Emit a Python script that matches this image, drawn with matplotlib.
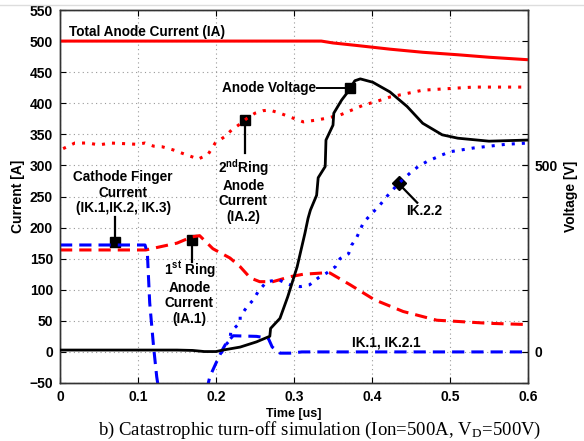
import matplotlib
matplotlib.use("Agg")
import matplotlib.pyplot as plt
from matplotlib.lines import Line2D

plt.rcParams['font.family'] = ['Liberation Sans', 'DejaVu Sans']
plt.rcParams['font.weight'] = 'bold'
plt.rcParams['mathtext.fontset'] = 'custom'
plt.rcParams['mathtext.rm'] = 'Liberation Sans:bold'
plt.rcParams['mathtext.bf'] = 'Liberation Sans:bold'

# ---- data ----
t_total = [0.0, 0.30, 0.335, 0.35, 0.38, 0.423, 0.465, 0.51, 0.55, 0.60]
i_total = [500, 500, 500, 497, 493, 487, 482, 478, 474, 470]

t_a2 = [0.004, 0.019, 0.036, 0.05, 0.065, 0.083, 0.098, 0.109, 0.12, 0.131, 0.145, 0.16,
        0.169, 0.177, 0.19, 0.199, 0.205, 0.212, 0.22, 0.229, 0.24, 0.25, 0.26, 0.269,
        0.282, 0.299, 0.312, 0.329, 0.342, 0.359, 0.374, 0.389, 0.406, 0.423, 0.465,
        0.53, 0.60]
i_a2 = [327, 336, 336, 333, 336, 335, 334, 336, 331, 330, 325, 318,
        314, 310, 318, 336, 341, 347, 357, 365, 376, 384, 388, 389,
        384, 376, 370, 373, 376, 381, 389, 397, 403, 410, 421,
        426, 426]

t_a1 = [0.0, 0.11, 0.128, 0.15, 0.169, 0.179, 0.196, 0.218, 0.231, 0.244, 0.256, 0.273,
        0.295, 0.312, 0.337, 0.346, 0.372, 0.403, 0.44, 0.483, 0.51, 0.55, 0.60]
i_a1 = [164, 164, 169, 175, 185, 187, 166, 151, 137, 119, 113, 113,
        121, 125, 127, 127, 108, 84, 65, 51, 49, 46, 44]

t_k1 = [0.0, 0.109, 0.112, 0.115, 0.12, 0.124, 0.13, 0.183, 0.192, 0.2, 0.208, 0.213,
        0.222, 0.252, 0.267, 0.272, 0.282, 0.295, 0.31, 0.60]
i_k1 = [172, 172, 159, 79, 8, -40, -90, -90, -40, -18, 3, 14,
        26, 25, 22, 8, -2, -2, 0, 0]

t_k22 = [0.207, 0.21, 0.218, 0.219, 0.231, 0.231, 0.24, 0.248, 0.254, 0.265, 0.28,
         0.295, 0.308, 0.32, 0.331, 0.342, 0.353, 0.359, 0.37, 0.374, 0.38, 0.389,
         0.40, 0.41, 0.419, 0.434, 0.449, 0.459, 0.47, 0.49, 0.50, 0.53, 0.551,
         0.572, 0.60]
i_k22 = [-2, 8, 19, 33, 47, 57, 73, 84, 97, 113, 116,
         108, 105, 108, 119, 127, 137, 150, 158, 172, 183, 208,
         223, 236, 250, 271, 288, 298, 306, 317, 322, 328, 331,
         334, 336]

t_v = [0.0, 0.05, 0.1, 0.15, 0.17, 0.185, 0.2, 0.209, 0.231, 0.252, 0.269, 0.27, 0.282,
       0.292, 0.304, 0.314, 0.318, 0.321, 0.329, 0.331, 0.34, 0.341, 0.35, 0.351, 0.361,
       0.369, 0.378, 0.385, 0.401, 0.423, 0.445, 0.465, 0.49, 0.51, 0.55, 0.60]
v_anode = [5, 5, 5, 5, 4, 1, 1, 5, 13, 27, 42, 63, 90,
           148, 228, 318, 358, 380, 420, 467, 497, 568, 608, 640, 675,
           697, 727, 732, 723, 697, 658, 613, 582, 573, 565, 568]

x_ticks = [0, 0.1, 0.2, 0.3, 0.4, 0.5, 0.6]
y_ticks = list(range(-50, 551, 50))
v_ticks = [0, 500]

RED = '#ff0000'
BLUE = '#0000ff'

fig = plt.figure(figsize=(5.84, 4.41), dpi=100)
ax = fig.add_axes([60/584, 1-383/441, 468/584, 373/441])
ax2 = ax.twinx()

ax.set_xlim(0, 0.6)
ax.set_ylim(-50, 550)
ax2.set_ylim(-50*5/3, 550*5/3)

ax.plot(t_total, i_total, color=RED, lw=2.2, solid_capstyle='butt', zorder=3)
ax.plot(t_a2, i_a2, color=RED, lw=2.2, ls=(0, (1, 2.3)), zorder=3)
ax.plot(t_a1, i_a1, color=RED, lw=2.2, ls=(0, (4, 2.3)), zorder=3)
ax.plot(t_k1, i_k1, color=BLUE, lw=2.2, ls=(0, (4, 2.3)), zorder=3)
ax.plot(t_k22, i_k22, color=BLUE, lw=2.2, ls=(0, (1, 2.3)), zorder=3)
ax2.plot(t_v, v_anode, color='black', lw=2.0, zorder=3)

ax.set_xticks(x_ticks)
ax.set_xticklabels([('%g' % v) for v in x_ticks])
ax.set_yticks(y_ticks)
ax.set_yticklabels([('\u2212%d' % -v) if v < 0 else str(v) for v in y_ticks])
ax2.set_yticks(v_ticks)
ax2.set_yticklabels([str(v) for v in v_ticks])

ax.grid(True, color='#999999', ls=(0, (1, 3)), lw=0.8)
ax.tick_params(direction='in', length=4, labelsize=10, top=True, right=True, width=0.8, pad=5)
ax2.tick_params(direction='in', length=4, labelsize=10, width=0.8, pad=5)
for a in (ax, ax2):
    for s in a.spines.values():
        s.set_linewidth(1.0)
        s.set_color('#333333')

ax.set_xlabel('Time [us]', fontsize=9, fontweight='bold', labelpad=3)
ax.set_ylabel('Current [A]', fontsize=10, fontweight='bold', labelpad=3)
ax2.set_ylabel('Voltage [V]', fontsize=10, fontweight='bold', labelpad=4, rotation=90)

fs = 9.8
ls_ = 1.12
# annotations
ax.text(0.012, 503, 'Total Anode Current (IA)', fontsize=fs, fontweight='bold',
        ha='left', va='bottom', zorder=5)

ax.text(0.329, 425, 'Anode Voltage', fontsize=fs, fontweight='bold', ha='right', va='center')
ax.plot([0.330, 0.372], [425, 425], color='black', lw=1.4)
ax.plot([0.372], [425], marker='s', color='black', ms=7.5)

ax.plot([0.237, 0.237], [373, 320], color='black', lw=1.6)
ax.plot([0.237], [373], marker='s', color='black', ms=7.5)
ax.text(0.235, 260, '2$^{\\mathbf{nd}}$Ring\nAnode\nCurrent\n(IA.2)', fontsize=fs,
        fontweight='bold', ha='center', va='center', linespacing=ls_)

ax.plot([0.0705, 0.0705], [177, 217], color='black', lw=1.6)
ax.plot([0.0705], [177], marker='s', color='black', ms=7.5)
ax.text(0.081, 256, 'Cathode Finger\nCurrent\n(IK.1,IK.2, IK.3)', fontsize=fs,
        fontweight='bold', ha='center', va='center', linespacing=ls_)

ax.plot([0.169, 0.169], [180, 145], color='black', lw=1.6)
ax.plot([0.169], [180], marker='s', color='black', ms=7.5)
ax.text(0.166, 96, '1$^{\\mathbf{st}}$ Ring\nAnode\nCurrent\n(IA.1)', fontsize=fs,
        fontweight='bold', ha='center', va='center', linespacing=ls_)

ax.plot([0.434, 0.458], [271, 240], color='black', lw=1.6)
ax.plot([0.434], [271], marker='D', color='black', ms=7)
ax.text(0.444, 226, 'IK.2.2', fontsize=fs, fontweight='bold', ha='left', va='center')

ax.text(0.374, 15, 'IK.1, IK.2.1', fontsize=fs, fontweight='bold', ha='left', va='center')

fig.text(320/584, 1-430/441, 'b) Catastrophic turn-off simulation (Ion=500A, V$_\\mathregular{D}$=500V)',
         family=['Liberation Serif', 'DejaVu Serif'], fontweight='normal', fontsize=13.5,
         ha='center', va='center', math_fontfamily='stix')

fig.add_artist(Line2D([0, 1], [1-5/441, 1-5/441], color='#dddddd', lw=1.0))

fig.savefig('out.png', dpi=100, facecolor='white')
